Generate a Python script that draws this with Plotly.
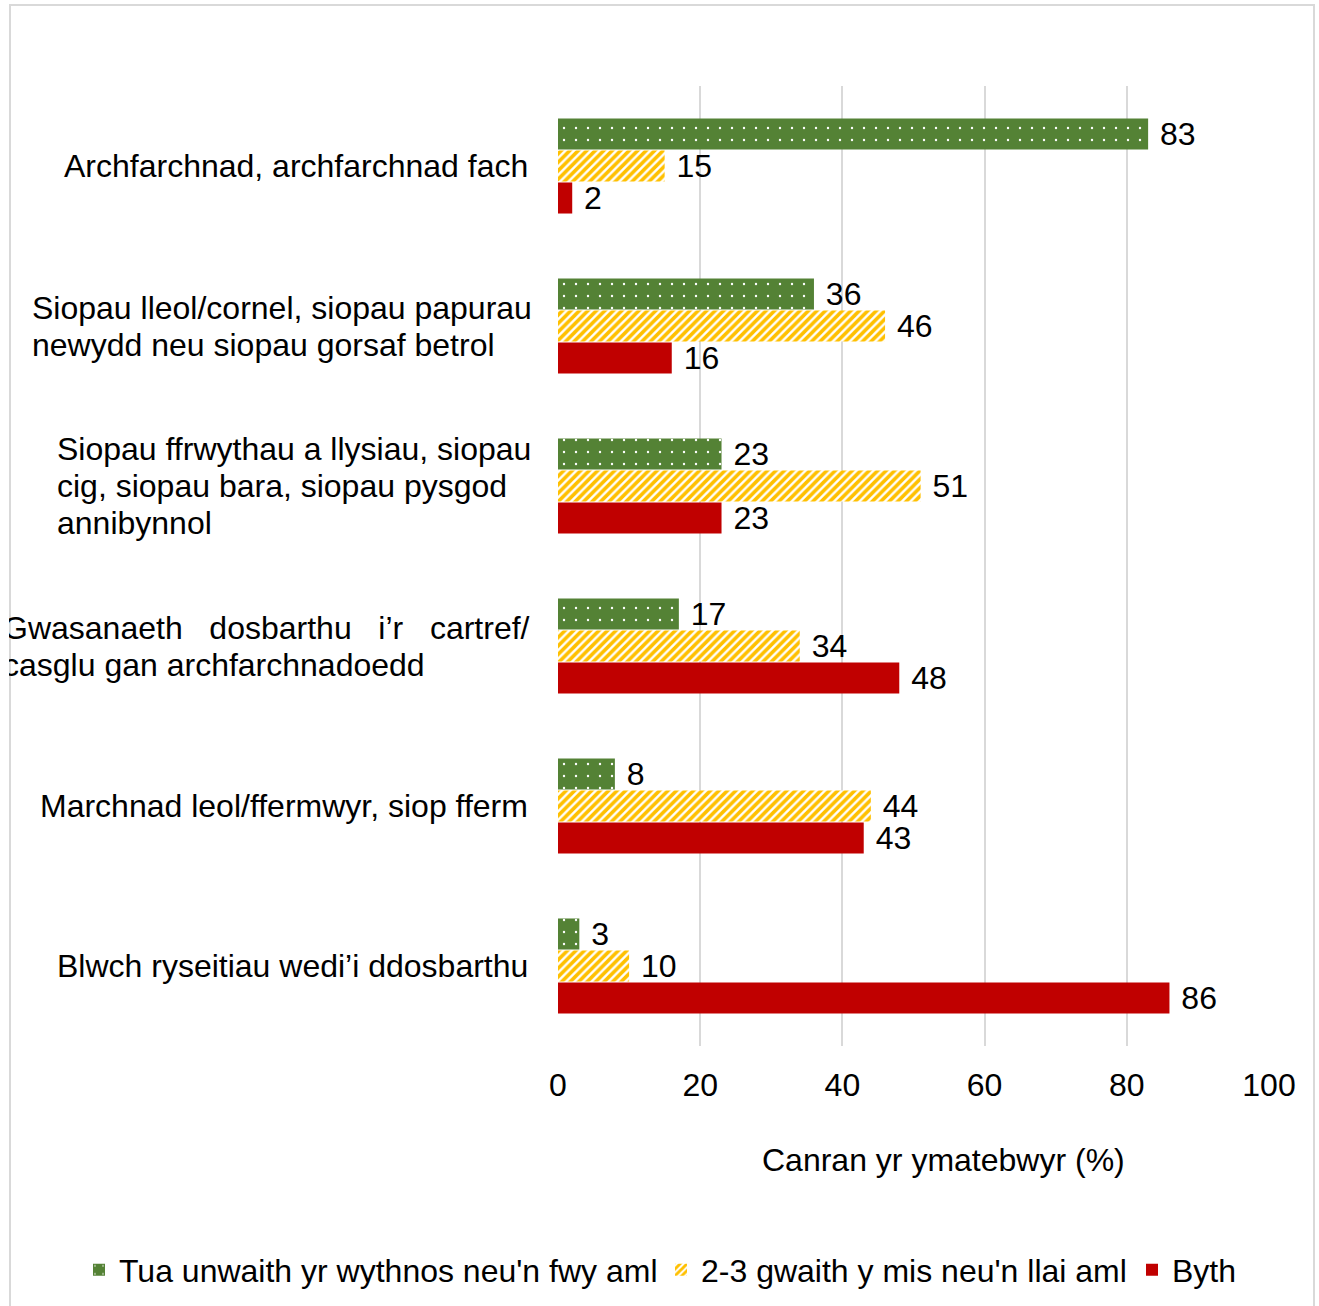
import plotly.graph_objects as go

cat_keys = ["c1", "c2", "c3", "c4", "c5", "c6"]
category_lines = [
    ["Archfarchnad, archfarchnad fach"],
    ["Siopau lleol/cornel, siopau papurau", "newydd neu siopau gorsaf betrol"],
    ["Siopau ffrwythau a llysiau, siopau", "cig, siopau bara, siopau pysgod", "annibynnol"],
    ["Gwasanaeth\u00a0\u00a0\u00a0dosbarthu\u00a0\u00a0\u00a0i\u2019r\u00a0\u00a0\u00a0cartref/", "casglu gan archfarchnadoedd"],
    ["Marchnad leol/ffermwyr, siop fferm"],
    ["Blwch ryseitiau wedi\u2019i ddosbarthu"],
]
weekly = [83, 36, 23, 17, 8, 3]
monthly = [15, 46, 51, 34, 44, 10]
never = [2, 16, 23, 48, 43, 86]
series_names = ["Tua unwaith yr wythnos neu'n fwy aml", "2-3 gwaith y mis neu'n llai aml", "Byth"]
x_ticks = [0, 20, 40, 60, 80, 100]
x_title = "Canran yr ymatebwyr (%)"

FONT = "Liberation Sans, Arial, sans-serif"
FS = 32
LABEL_TMPL = "\u00a0%{x}"

fig = go.Figure()
fig.add_trace(go.Bar(
    y=cat_keys, x=weekly, orientation="h", name=series_names[0], legend="legend",
    marker=dict(color="#548235", line=dict(width=0),
                pattern=dict(shape=".", fgcolor="white", bgcolor="#548235", size=12, solidity=0.03,
                             fgopacity=1, fillmode="overlay")),
    texttemplate=LABEL_TMPL, textposition="outside", constraintext="none", cliponaxis=False,
    textfont=dict(size=FS, color="black", family=FONT),
))
fig.add_trace(go.Bar(
    y=cat_keys, x=monthly, orientation="h", name=series_names[1], legend="legend2",
    marker=dict(color="white", line=dict(width=0),
                pattern=dict(shape="/", fgcolor="#FFC000", bgcolor="white", size=6, solidity=0.6,
                             fgopacity=1, fillmode="overlay")),
    texttemplate=LABEL_TMPL, textposition="outside", constraintext="none", cliponaxis=False,
    textfont=dict(size=FS, color="black", family=FONT),
))
fig.add_trace(go.Bar(
    y=cat_keys, x=never, orientation="h", name=series_names[2], legend="legend3",
    marker=dict(color="#C00000", line=dict(width=0)),
    texttemplate=LABEL_TMPL, textposition="outside", constraintext="none", cliponaxis=False,
    textfont=dict(size=FS, color="black", family=FONT),
))

L, R, T, B = 558, 50, 86, 260
W, H = 1319, 1306
pw, ph = W - L - R, H - T - B

def px_x(x):
    return (x - L) / pw

def px_y(y):
    return (H - B - y) / ph

# left edge (px) of multi-line label blocks; None => right aligned at 528
block_left = [None, 30, 55, 1, None, None]
LINE = 37

annotations = []
for key, lines, left in zip(cat_keys, category_lines, block_left):
    n = len(lines)
    for i, line in enumerate(lines):
        shift = -(i - (n - 1) / 2) * LINE
        if left is None:
            annotations.append(dict(
                x=px_x(530), xref="paper", y=key, yref="y", yshift=shift, text=line, showarrow=False,
                xanchor="right", yanchor="middle", font=dict(size=FS, color="black", family=FONT)))
        else:
            annotations.append(dict(
                x=px_x(left), xref="paper", y=key, yref="y", yshift=shift, text=line, showarrow=False,
                xanchor="left", yanchor="middle", font=dict(size=FS, color="black", family=FONT)))

# white mask emulating clipping of the label at the frame's left edge
annotations.append(dict(
    x=px_x(0), xref="paper", y="c4", yref="y", text=" ", showarrow=False,
    xanchor="left", yanchor="middle", width=9, height=100, bgcolor="white", borderpad=0, borderwidth=0))

annotations.append(dict(
    x=px_x(943), xref="paper", y=px_y(1160), yref="paper", text=x_title, showarrow=False,
    xanchor="center", yanchor="middle", font=dict(size=FS, color="black", family=FONT),
))

def legend_at(text_left):
    return dict(orientation="h", xref="container", yref="container",
                x=(text_left - 42) / W, xanchor="left", y=(H - 1270) / H, yanchor="middle",
                font=dict(size=FS, color="black", family=FONT),
                itemwidth=30, bgcolor="rgba(0,0,0,0)", borderwidth=0)

fig.update_layout(
    width=W, height=H,
    margin=dict(l=L, r=R, t=T, b=B, autoexpand=False),
    paper_bgcolor="white", plot_bgcolor="white",
    barmode="group", bargap=0.4, bargroupgap=0.03,
    font=dict(family=FONT, size=FS, color="black"),
    showlegend=True,
    legend=legend_at(121),
    legend2=legend_at(703),
    legend3=legend_at(1174),
    annotations=annotations,
    shapes=[dict(type="rect", xref="paper", yref="paper",
                 x0=px_x(10), x1=px_x(1314), y0=px_y(1320), y1=px_y(5),
                 line=dict(color="#D9D9D9", width=2), fillcolor="rgba(0,0,0,0)", layer="below")],
)
fig.update_xaxes(range=[0, 100], tickvals=x_ticks, showgrid=True, gridcolor="#D9D9D9", gridwidth=2,
                 zeroline=False, showline=False, ticks="", ticklabelstandoff=17,
                 tickfont=dict(size=FS, color="black", family=FONT), fixedrange=True)
fig.update_yaxes(autorange="reversed", showticklabels=False, showgrid=False, zeroline=False,
                 showline=False, ticks="", fixedrange=True)

fig.write_html("out.html", config={"displayModeBar": False},
               post_script="document.body.style.margin='0';")
